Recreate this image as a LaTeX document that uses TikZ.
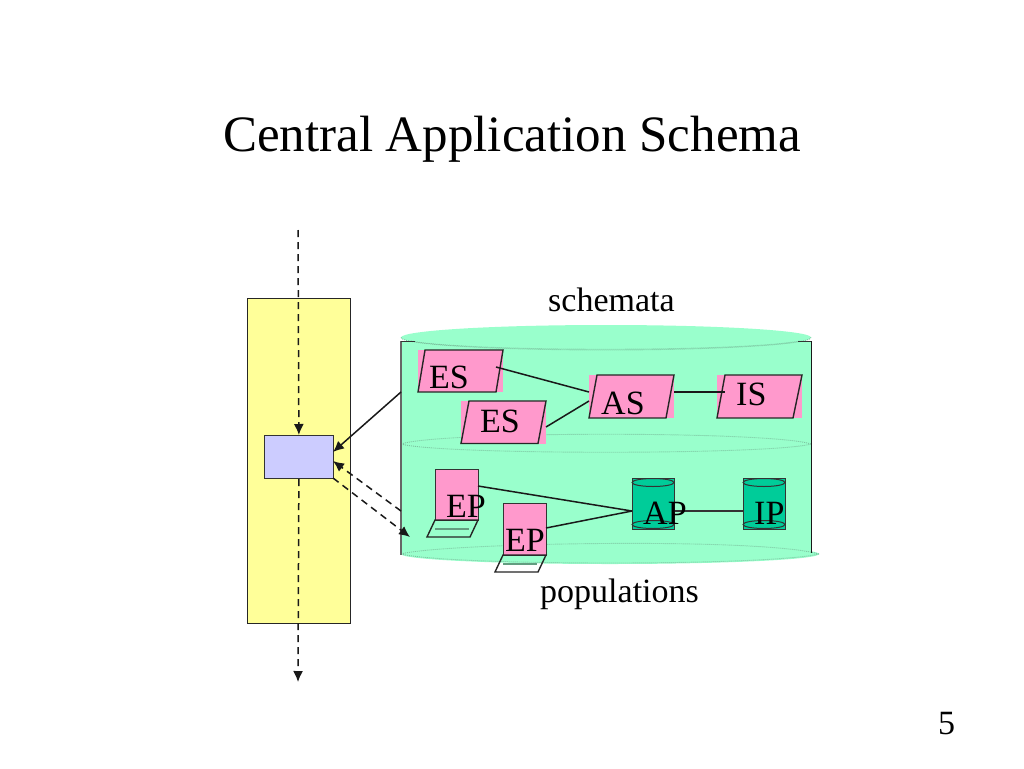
\documentclass[tikz,border=0pt]{standalone}
\usepackage{fontspec}
\setmainfont{Liberation Serif}
\usetikzlibrary{arrows.meta}
\definecolor{cylgreen}{HTML}{99FFCC}
\definecolor{cyldot}{HTML}{7CC4A0}
\definecolor{pinkfill}{HTML}{FF99CC}
\definecolor{teal1}{HTML}{00CC99}
\definecolor{lav}{HTML}{CCCCFF}
\definecolor{yel}{HTML}{FFFF99}
\tikzset{
  x=1pt,y=-1pt,
  lbl/.style={anchor=base west,inner sep=0pt,font=\fontsize{34}{38}\selectfont},
  titletext/.style={anchor=base,inner sep=0pt,font=\fontsize{51}{56}\selectfont},
  pinkbox/.style={fill=pinkfill,draw=none,inner sep=0pt},
  conn/.style={line width=1.5pt,black!90},
  solidarrow/.style={conn,-{Latex[length=11pt,width=10pt]}},
  dasharrow/.style={conn,dash pattern=on 7pt off 5pt,-{Latex[length=11pt,width=10pt]}},
  edge/.style={line width=1.4pt,draw=black!85},
  dot/.style={line width=0.9pt,draw=cyldot,dash pattern=on 1pt off 1pt},
  tealcyl/.style={fill=teal1,draw=black!80,line width=1.2pt},
}
\newcommand{\bboxnode}[5]{% name, x1,y1,x2,y2
  \node[pinkbox,minimum width=#4-#2,minimum height=#5-#3,anchor=north west] (#1) at (#2,#3) {};}
\newcommand{\skewbox}[8]{% tl tr br bl
  \draw[edge] (#1,#2) -- (#3,#4) -- (#5,#6) -- (#7,#8) -- cycle;}
\newcommand{\laptop}[3]{% x, y top edge, width
  \draw[edge] (#1,#2) -- ++(#3,0) -- ++(-8,17) -- ++(-#3,0) -- cycle;
  \draw[line width=1.8pt,draw=cyldot!80!black] (#1,#2+9) -- ++(#3-9,0);}
\newcommand{\dbcyl}[3]{% name, x, y
  \node[tealcyl,minimum width=42pt,minimum height=51pt,inner sep=0pt,anchor=north west] (#1) at (#2,#3) {};
  \draw[line width=1pt,draw=black!80] (#2+21,#3+4.5) ellipse [x radius=21,y radius=4];
  \draw[line width=1pt,draw=black!80] (#2+21,#3+46.5) ellipse [x radius=21,y radius=4];}
\begin{document}
\begin{tikzpicture}
\useasboundingbox (0,0) rectangle (1024,768);
\fill[white] (0,0) rectangle (1024,768);
\node[titletext] (title) at (512,151) {Central Application Schema};
% left column
\node[fill=yel,draw=black!85,line width=1.1pt,minimum width=102.5pt,minimum height=325pt,inner sep=0pt,anchor=north west] (col) at (247,298) {};
\node[fill=lav,draw=black!80,line width=1.2pt,minimum width=68.5pt,minimum height=43pt,inner sep=0pt,anchor=north west] (proc) at (264,435) {};
% cylinder
\fill[cylgreen] (401,341) rectangle (811,553);
\fill[cylgreen] (606,337.5) ellipse [x radius=205,y radius=12.5];
\fill[cylgreen] (610,554) ellipse [x radius=209,y radius=10];
\draw[dot] (401,337.5) arc[start angle=180,end angle=0,x radius=205,y radius=12.5];
\draw[dot] (411,341) .. controls (470,352) and (740,352) .. (800,341);
\draw[dot] (401,444) .. controls (440,431) and (772,431) .. (811,444);
\draw[dot] (401,444) .. controls (440,455) and (772,455) .. (811,444);
\draw[dot] (401,554) .. controls (440,543) and (760,537) .. (819,554);
\draw[dot] (401,554) .. controls (450,566) and (770,566) .. (819,554);
\draw[line width=1.3pt,draw=black!60] (401,341) -- (401,555);
\draw[line width=1pt,draw=black!90] (811,341) -- (811,553);
\draw[line width=0.9pt,draw=black!80] (401,341) -- (415,341);
\draw[line width=0.9pt,draw=black!80] (798,341) -- (811,341);
% schema boxes
\bboxnode{es1}{418}{350}{503}{392}
\skewbox{425}{350}{503}{350}{496}{392}{418}{392}
\bboxnode{es2}{461}{401}{546}{444}
\skewbox{469}{401}{546}{401}{538}{443.5}{461}{443.5}
\bboxnode{as}{589}{375}{674}{418}
\skewbox{597}{375}{674}{375}{666}{418}{589}{418}
\bboxnode{is}{717}{375}{802}{418}
\skewbox{725}{375}{802}{375}{793}{418}{717}{418}
\coordinate (es1r) at (496,367);
\coordinate (es2r) at (546,427);
\coordinate (asa) at (589,392);
\coordinate (asb) at (589,401);
\coordinate (asr) at (674,392);
\coordinate (isl) at (725,392);
\draw[conn] (es1r) -- (asa);
\draw[conn] (es2r) -- (asb);
\draw[conn] (asr) -- (isl);
% populations
\node[pinkbox,draw=black!80,line width=1.2pt,minimum width=43pt,minimum height=51pt,anchor=north west] (ep1) at (435,469) {};
\laptop{435}{520}{43}
\node[pinkbox,draw=black!80,line width=1.2pt,minimum width=43pt,minimum height=52pt,anchor=north west] (ep2) at (503,503) {};
\laptop{503}{555}{43}
\dbcyl{ap}{632}{478}
\dbcyl{ip}{743}{478}
\coordinate (ep1r) at (478,486);
\coordinate (ep2r) at (546,528);
\coordinate (apl) at (632,511);
\coordinate (apr) at (674,511);
\coordinate (ipl) at (743,511);
\draw[conn] (ep1r) -- (apl);
\draw[conn] (ep2r) -- (apl);
\draw[line width=1.2pt,black!80] (apr) -- (ipl);
% labels
\node[lbl] (lschem) at (548,311) {schemata};
\node[lbl] (lpop) at (540,602) {populations};
\node[lbl] (tes1) at (429,388) {ES};
\node[lbl] (tes2) at (480,432) {ES};
\node[lbl] (tas) at (601,414) {AS};
\node[lbl] (tis) at (736,405) {IS};
\node[lbl] (tep1) at (446,517) {EP};
\node[lbl] (tep2) at (505,551) {EP};
\node[lbl] (tap) at (643,524) {AP};
\node[lbl] (tip) at (754,524) {IP};
\node[lbl] (pnum) at (938,734) {5};
% arrows
\coordinate (topin) at (298,230);
\coordinate (botout) at (298,682);
\coordinate (cylL) at (401,392);
\coordinate (cylD) at (401,511);
\coordinate (cylE) at (410,537);
\coordinate (procA) at (333,452);
\coordinate (procB) at (333,461);
\coordinate (procC) at (333,478);
\draw[dasharrow] (topin) -- (proc.north);
\draw[dasharrow] (proc.south) -- (botout);
\draw[solidarrow] (cylL) -- (procA);
\draw[dasharrow] (cylD) -- (procB);
\draw[dasharrow] (procC) -- (cylE);
\end{tikzpicture}
\end{document}
